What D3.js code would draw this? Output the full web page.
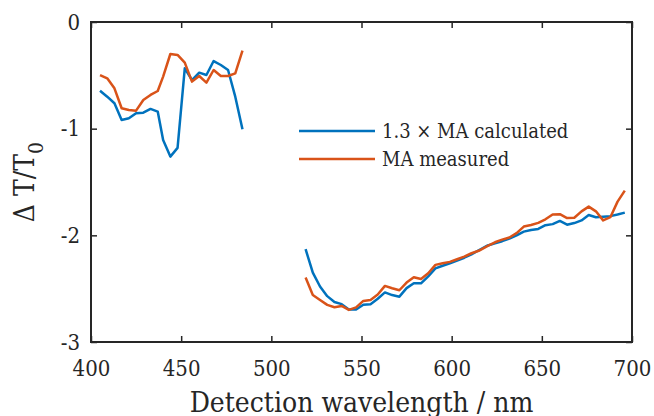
<!DOCTYPE html>
<html><head><meta charset="utf-8">
<script src="https://cdn.jsdelivr.net/npm/d3@7"></script>
<style>body{margin:0;background:#fff}</style>
</head><body>
<script>
// wavelengths (nm) of the two measured windows
const wlLeft = [405,409,413,417,421,425,429,433,437,440,444,448,452,456,460,464,468,472,476,480,484]
const wlRight = [519,523,527,531,535,539,543,547,551,555,559,563,567,571,575,579,583,587,591,595,599,603,607,611,615,620,624,628,632,636,640,644,648,652,656,660,664,668,672,676,680,684,688,692,696]

// 1.3 x MA calculated
const calcLeft = [-0.644,-0.70,-0.762,-0.918,-0.903,-0.856,-0.85,-0.815,-0.84,-1.106,-1.262,-1.18,-0.434,-0.544,-0.475,-0.497,-0.366,-0.403,-0.45,-0.70,-1.006]
const calcRight = [-2.13,-2.35,-2.48,-2.57,-2.625,-2.645,-2.695,-2.695,-2.65,-2.645,-2.595,-2.535,-2.56,-2.575,-2.495,-2.45,-2.45,-2.385,-2.31,-2.285,-2.262,-2.237,-2.21,-2.178,-2.14,-2.095,-2.075,-2.055,-2.03,-2.0,-1.965,-1.95,-1.94,-1.905,-1.895,-1.865,-1.9,-1.885,-1.86,-1.81,-1.83,-1.825,-1.82,-1.805,-1.787]

// MA measured
const measLeft = [-0.497,-0.528,-0.622,-0.809,-0.825,-0.831,-0.731,-0.684,-0.647,-0.512,-0.30,-0.309,-0.381,-0.559,-0.506,-0.568,-0.45,-0.506,-0.506,-0.481,-0.269]
const measRight = [-2.396,-2.56,-2.606,-2.652,-2.674,-2.662,-2.699,-2.675,-2.615,-2.606,-2.555,-2.474,-2.496,-2.515,-2.443,-2.393,-2.41,-2.355,-2.277,-2.262,-2.249,-2.224,-2.2,-2.168,-2.145,-2.098,-2.065,-2.04,-2.02,-1.98,-1.918,-1.903,-1.883,-1.85,-1.805,-1.802,-1.838,-1.835,-1.775,-1.731,-1.775,-1.86,-1.83,-1.684,-1.581]

const xTicks = [400,450,500,550,600,650,700]
const yTicks = [-3,-2,-1,0]
const seriesNames = ["1.3 \u00d7 MA calculated","MA measured"]
const colors = ["#0072BD","#D95319"]

const width = 654
const height = 416
const font = "'DejaVu Serif Condensed', 'DejaVu Serif', serif"
const axisColor = "#262626"

const x = d3.scaleLinear().domain([400,700]).range([91,632])
const y = d3.scaleLinear().domain([-3,0]).range([342,22])

const svg = d3.select("body")
    .append("svg")
    .attr("width",width)
    .attr("height",height)

// inward ticks on all four sides
const tickLen = 6
function styleAxis(g){
    g.select(".domain").remove()
    g.selectAll("line").attr("stroke",axisColor).attr("stroke-width",1.5)
    g.selectAll("text").attr("fill",axisColor)
        .attr("font-family",font).attr("font-stretch","condensed").attr("font-size",22)
}

svg.append("g")
    .attr("transform",`translate(0,${y(-3)})`)
    .call(d3.axisBottom(x).tickValues(xTicks).tickSizeInner(-tickLen).tickSizeOuter(0).tickPadding(18))
    .call(styleAxis)

svg.append("g")
    .attr("transform",`translate(0,${y(0)})`)
    .call(d3.axisTop(x).tickValues(xTicks).tickSizeInner(-tickLen).tickSizeOuter(0).tickFormat(""))
    .call(styleAxis)

svg.append("g")
    .attr("transform",`translate(${x(400)},0)`)
    .call(d3.axisLeft(y).tickValues(yTicks).tickSizeInner(-tickLen).tickSizeOuter(0).tickPadding(11).tickFormat(d3.format("d")))
    .call(styleAxis)

svg.append("g")
    .attr("transform",`translate(${x(700)},0)`)
    .call(d3.axisRight(y).tickValues(yTicks).tickSizeInner(-tickLen).tickSizeOuter(0).tickFormat(""))
    .call(styleAxis)

// "-" as in the figure rather than unicode minus
svg.selectAll("text").each(function(){
    const t = d3.select(this); t.text(t.text().replace("\u2212","-"))
})

svg.append("rect")
    .attr("x",x(400)).attr("y",y(0))
    .attr("width",x(700)-x(400)).attr("height",y(-3)-y(0))
    .attr("fill","none").attr("stroke",axisColor).attr("stroke-width",2)

const line = d3.line().x(d=>x(d[0])).y(d=>y(d[1]))

const segments = [
    {wl:wlLeft, v:calcLeft, c:0},
    {wl:wlRight, v:calcRight, c:0},
    {wl:wlLeft, v:measLeft, c:1},
    {wl:wlRight, v:measRight, c:1}
]

svg.selectAll(".seg")
    .data(segments)
    .join("path")
    .attr("class","seg")
    .attr("d",d=>line(d.wl.map((w,i)=>[w,d.v[i]])))
    .attr("fill","none")
    .attr("stroke",d=>colors[d.c])
    .attr("stroke-width",2.5)
    .attr("stroke-linejoin","round")

// legend
const legend = svg.append("g").attr("transform","translate(299,131)")
seriesNames.forEach((name,i)=>{
    legend.append("line")
        .attr("x1",0).attr("x2",76)
        .attr("y1",i*28).attr("y2",i*28)
        .attr("stroke",colors[i]).attr("stroke-width",2.5)
    legend.append("text")
        .attr("x",83).attr("y",i*28)
        .attr("dy","0.35em")
        .attr("font-family",font).attr("font-stretch","condensed").attr("font-size",20)
        .attr("fill",axisColor)
        .text(name)
})

// axis labels
svg.append("text")
    .attr("x",(x(400)+x(700))/2).attr("y",412)
    .attr("text-anchor","middle")
    .attr("font-family",font).attr("font-stretch","condensed").attr("font-size",28)
    .attr("fill",axisColor)
    .text("Detection wavelength / nm")

const yl = svg.append("text")
    .attr("transform",`translate(34,${(y(0)+y(-3))/2}) rotate(-90)`)
    .attr("text-anchor","middle")
    .attr("font-family",font).attr("font-stretch","condensed").attr("font-size",28)
    .attr("fill",axisColor)
yl.append("tspan").text("\u0394 T/T")
yl.append("tspan").attr("dy",9).attr("font-size",21).text("0")
</script>
</body></html>
